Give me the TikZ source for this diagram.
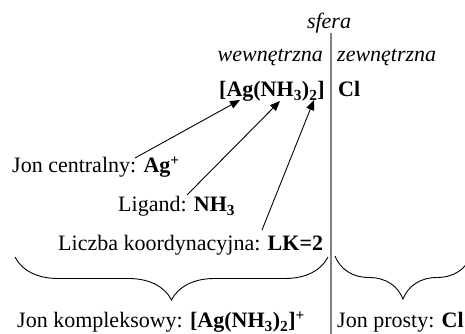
\documentclass[tikz,border=0pt]{standalone}
\usepackage{fontspec}
\setmainfont{Liberation Serif}
\usetikzlibrary{arrows.meta,decorations.pathreplacing}
\tikzset{
  txt/.style={inner sep=0pt, font=\fontsize{22}{26}\selectfont},
  itxt/.style={txt, font=\fontsize{22}{26}\selectfont\itshape},
  arr/.style={line width=0.9pt, -{Triangle[length=10pt,width=8pt]}},
  brc/.style={line width=0.9pt, decorate, decoration={brace,amplitude=43pt,mirror}},
  divider/.style={line width=1.3pt, draw=black!50}
}
\begin{document}
\begin{tikzpicture}[x=1pt,y=1pt]
\useasboundingbox (0,0) rectangle (465,334);
\node[itxt, anchor=base] (sfera) at (329,305) {sfera};
\coordinate (ltop) at (331,301);
\coordinate (lbot) at (331,0);
\draw[divider] (ltop) -- (lbot);
\node[itxt, anchor=base east] (wew) at (323,272) {wewnętrzna};
\node[itxt, anchor=base west] (zew) at (337,272) {zewnętrzna};
\node[txt, anchor=base east] (cplx) at (325,237) {\textbf{[Ag(NH\textsubscript{3})\textsubscript{2}]}};
\node[txt, anchor=base west] (cl) at (338,237) {\textbf{Cl}};
\node[txt, anchor=base west] (jc) at (12,161) {Jon centralny: \textbf{Ag\textsuperscript{+}}};
\node[txt, anchor=base west] (lig) at (118,122) {Ligand: \textbf{NH\textsubscript{3}}};
\node[txt, anchor=base west] (lk) at (58,83) {Liczba koordynacyjna: \textbf{LK=2}};
\coordinate (t1) at (135,176);
\coordinate (t2) at (187,139);
\coordinate (t3) at (262,104);
\coordinate (h1) at (240,234);
\coordinate (h2) at (280,233);
\coordinate (h3) at (314,234);
\draw[arr] (t1) -- (h1);
\draw[arr] (t2) -- (h2);
\draw[arr] (t3) -- (h3);
\coordinate (b1a) at (15,77);
\coordinate (b1b) at (328,77);
\coordinate (b2a) at (335,78);
\coordinate (b2b) at (471,78);
\draw[brc] (b1a) -- (b1b);
\draw[brc] (b2a) -- (b2b);
\node[txt, anchor=base west] (jk) at (17,6) {Jon kompleksowy: \textbf{[Ag(NH\textsubscript{3})\textsubscript{2}]\textsuperscript{+}}};
\node[txt, anchor=base west] (jp) at (337,6) {Jon prosty: \textbf{Cl}};
\end{tikzpicture}
\end{document}
